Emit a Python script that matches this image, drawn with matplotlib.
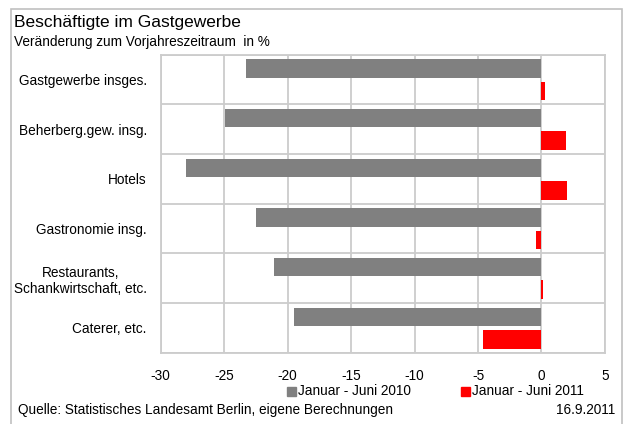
import matplotlib.pyplot as plt
import numpy as np
from matplotlib.patches import Rectangle

plt.rcParams['font.family'] = ['Liberation Sans', 'DejaVu Sans']

categories = ['Gastgewerbe insges.', 'Beherberg.gew. insg.', 'Hotels',
              'Gastronomie insg.', 'Restaurants,\nSchankwirtschaft, etc.', 'Caterer, etc.']
jan_jun_2010 = [-23.3, -24.9, -28.0, -22.5, -21.1, -19.5]
jan_jun_2011 = [0.3, 1.9, 2.0, -0.45, 0.15, -4.6]
xticks = [-30, -25, -20, -15, -10, -5, 0, 5]

fs = 9.8

fig = plt.figure(figsize=(6.23, 4.24), dpi=100)
ax = fig.add_axes([0.258, 0.168, 0.713, 0.703])

y = np.arange(len(categories))
ax.barh(y - 0.225, jan_jun_2010, height=0.37, color='#808080', zorder=3)
ax.barh(y + 0.23, jan_jun_2011, height=0.37, color='#ff0000', zorder=3)

ax.set_xlim(-30, 5)
ax.set_ylim(len(categories) - 0.5, -0.5)
ax.set_xticks(xticks)
ax.set_xticklabels([str(t) for t in xticks], fontsize=fs)
ax.set_yticks(y)
ax.set_yticklabels(categories, fontsize=fs, multialignment='center')
ax.set_yticks(np.arange(len(categories) + 1) - 0.5, minor=True)
ax.tick_params(axis='both', which='both', length=0)
ax.tick_params(axis='x', pad=12)
ax.tick_params(axis='y', pad=10)
ax.grid(True, axis='x', color='#cccccc', lw=1.3, zorder=0)
ax.grid(True, axis='y', which='minor', color='#cccccc', lw=1.3, zorder=0)
for s in ax.spines.values():
    s.set_color('#cccccc')
    s.set_linewidth(1.3)

# outer frame
fig.patches.append(Rectangle((11 / 623, -0.01), 611 / 623, 1.01 - 9 / 424, transform=fig.transFigure,
                             fill=False, edgecolor='#c0c0c0', lw=1.2))

fig.text(14 / 623, 1 - 22 / 424, 'Beschäftigte im Gastgewerbe', fontsize=12.5, va='center')
fig.text(14 / 623, 1 - 42 / 424, 'Veränderung zum Vorjahreszeitraum  in %', fontsize=fs, va='center')

# legend
fig.patches.append(Rectangle((287 / 623, 1 - 396 / 424), 9 / 623, 9 / 424,
                             transform=fig.transFigure, color='#808080'))
fig.text(298 / 623, 1 - 391 / 424, 'Januar - Juni 2010', fontsize=fs, va='center')
fig.patches.append(Rectangle((461 / 623, 1 - 396 / 424), 9 / 623, 9 / 424,
                             transform=fig.transFigure, color='#ff0000'))
fig.text(472 / 623, 1 - 391 / 424, 'Januar - Juni 2011', fontsize=fs, va='center')

fig.text(18 / 623, 1 - 410 / 424, 'Quelle: Statistisches Landesamt Berlin, eigene Berechnungen',
         fontsize=fs, va='center')
fig.text(615 / 623, 1 - 410 / 424, '16.9.2011', fontsize=fs, va='center', ha='right')

fig.savefig('out.png', dpi=100)
